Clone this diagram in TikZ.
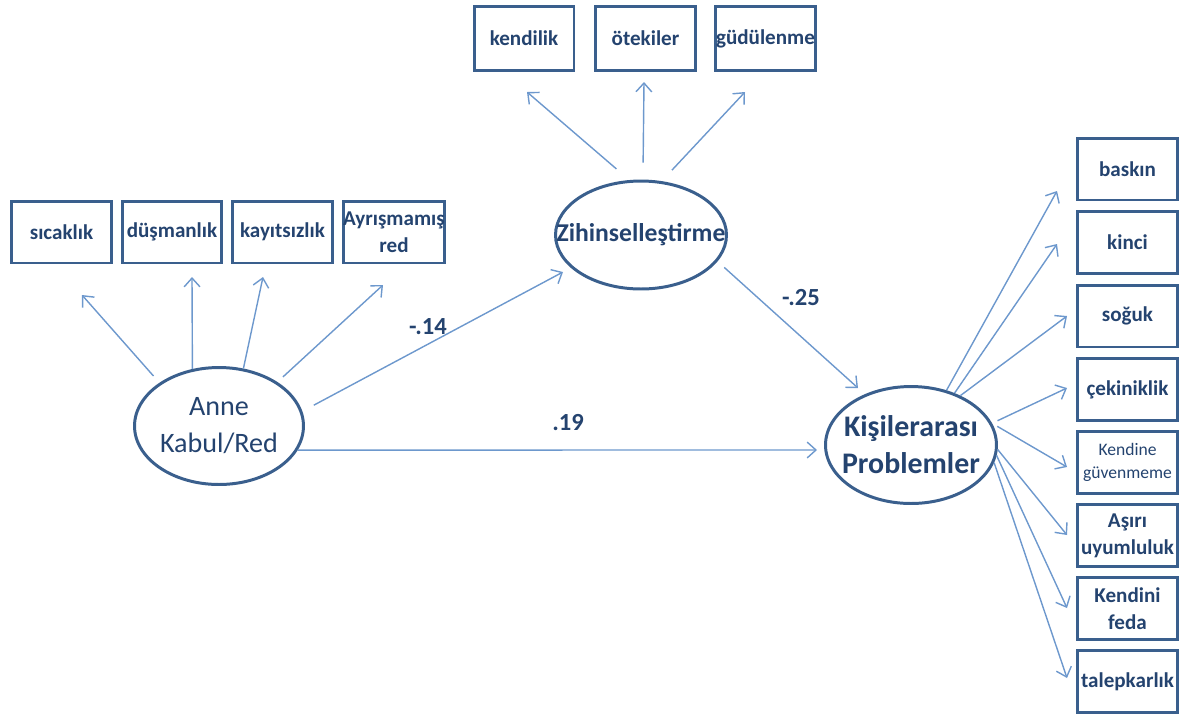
\documentclass[tikz,border=0pt]{standalone}
\usepackage{fontspec}
\setmainfont{Carlito}
\usetikzlibrary{arrows.meta,shapes.geometric}
\definecolor{boxc}{HTML}{3A5F8D}
\definecolor{arrc}{HTML}{6D98CD}
\definecolor{txtc}{HTML}{24436F}
\newcommand{\zw}[1]{\makebox[0pt]{#1}}
\begin{document}
\begin{tikzpicture}[x=0.02cm,y=-0.02cm,
 box/.style={draw=boxc,line width=1.7pt,minimum width=2.0cm,minimum height=1.24cm,inner sep=0pt,text=txtc,font=\fontsize{12}{15.5}\selectfont\bfseries,align=center},
 lat/.style={ellipse,draw=boxc,line width=1.7pt,inner sep=0pt,text=txtc,align=center},
 arr/.style={draw=arrc,line width=0.8pt,-{Straight Barb[length=5pt,width=9pt]}},
 coef/.style={text=txtc,font=\fontsize{14}{16}\selectfont\bfseries}]
\useasboundingbox (0,0) rectangle (1184,718);
% latent variables
\node[lat,minimum width=3.38cm,minimum height=2.34cm,font=\fontsize{16}{21}\selectfont] (anne) at (219,426) {\zw{Anne}\\\zw{Kabul/Red}};
\node[lat,minimum width=3.42cm,minimum height=2.16cm,font=\fontsize{14.6}{18}\selectfont\bfseries] (zih) at (641,235) {\zw{Zihinselleştirme}};
\node[lat,minimum width=3.42cm,minimum height=2.34cm,font=\fontsize{17}{21}\selectfont\bfseries] (kisi) at (911,445) {\zw{Kişilerarası}\\\zw{Problemler}};
% left boxes
\node[box] (sic) at (61.5,232) {sıcaklık};
\node[box] (dus) at (172,232) {düşmanlık};
\node[box] (kay) at (282.5,232) {kayıtsızlık};
\node[box] (ayr) at (394,232) {Ayrışmamış\\red};
% top boxes
\node[box,minimum height=1.28cm] (ken) at (524,38.5) {kendilik};
\node[box,minimum height=1.28cm] (ote) at (645.5,38.5) {ötekiler};
\node[box,minimum height=1.28cm] (gud) at (765.5,38.5) {güdülenme};
% right boxes
\node[box] (bas) at (1127.5,169) {baskın};
\node[box] (kin) at (1127.5,242.5) {kinci};
\node[box] (sog) at (1127.5,316) {soğuk};
\node[box] (cek) at (1127.5,389.5) {çekiniklik};
\node[box,font=\fontsize{10}{13}\selectfont] (kgu) at (1127.5,462.5) {Kendine\\güvenmeme};
\node[box] (asi) at (1127.5,535.5) {Aşırı\\uyumluluk};
\node[box] (kfe) at (1127.5,608.5) {Kendini\\feda};
\node[box] (tal) at (1127.5,681.5) {talepkarlık};
% arrow ends
\coordinate (esic) at (82,295);
\coordinate (edus) at (192,277);
\coordinate (ekay) at (263,277);
\coordinate (eayr) at (383,285);
\coordinate (eken) at (527,92);
\coordinate (eote) at (644,82);
\coordinate (egud) at (745,92);
\coordinate (ebas) at (1057,191);
\coordinate (ekin) at (1057,244);
\coordinate (esog) at (1067,316);
\coordinate (ecek) at (1067,388);
\coordinate (ekgu) at (1067,467);
\coordinate (easi) at (1067,535);
\coordinate (ekfe) at (1067,608);
\coordinate (etal) at (1067,678);
\coordinate (eaz) at (563,272);
\coordinate (eak) at (817,450);
\coordinate (ezk) at (858,388);
% indicator arrows
\draw[arr,shorten <=0.18cm] (anne.144) -- (esic);
\draw[arr] (anne.115) -- (edus);
\draw[arr] (anne.67) -- (ekay);
\draw[arr,shorten <=0.15cm] (anne.37) -- (eayr);
\draw[arr,shorten <=0.34cm] (zih.102) -- (eken);
\draw[arr,shorten <=0.34cm] (zih.88) -- (eote);
\draw[arr,shorten <=0.3cm] (zih.69) -- (egud);
\draw[arr] (kisi.57) -- (ebas);
\draw[arr] (kisi.50) -- (ekin);
\draw[arr] (kisi.45) -- (esog);
\draw[arr,shorten <=0.12cm] (kisi.15) -- (ecek);
\draw[arr,shorten <=0.12cm] (kisi.15) -- (ekgu);
\draw[arr] (kisi.-3) -- (easi);
\draw[arr] (kisi.-7) -- (ekfe);
\draw[arr] (kisi.-12) -- (etal);
% structural paths
\draw[arr,shorten <=0.26cm] (anne.10) -- (eaz);
\draw[arr] (anne.-17) -- (eak);
\draw[arr,shorten <=0.18cm] (zih.-19) -- (ezk);
% coefficients
\node[coef] (c1) at (428,327) {-.14};
\node[coef] (c2) at (568,423) {.19};
\node[coef] (c3) at (801,298) {-.25};
\end{tikzpicture}
\end{document}
